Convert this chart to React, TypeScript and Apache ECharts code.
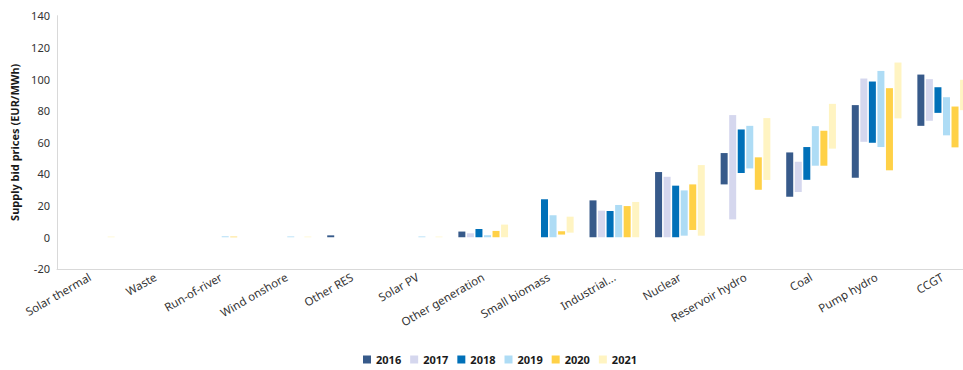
import React, { useEffect, useRef } from "react";
import * as echarts from "echarts";

const categories = [
  "Solar thermal",
  "Waste",
  "Run-of-river",
  "Wind onshore",
  "Other RES",
  "Solar PV",
  "Other generation",
  "Small biomass",
  "Industrial...",
  "Nuclear",
  "Reservoir hydro",
  "Coal",
  "Pump hydro",
  "CCGT",
];

const years = ["2016", "2017", "2018", "2019", "2020", "2021"];
const colors = ["#375A8A", "#D5D7EE", "#0070B8", "#AEDCF5", "#FFD147", "#FFF4C2"];

// low / high bid prices per category (EUR/MWh); null = no bar
const low2016 = [null, null, null, null, 0, null, 0, null, 0, 0, 33.4, 25.6, 37.6, 70.4];
const high2016 = [null, null, null, null, 1.2, null, 3.6, null, 23.3, 41.2, 53.2, 53.6, 83.5, 102.8];
const low2017 = [null, null, null, null, null, null, 0, null, 0, 0, 11.3, 28.6, 60.3, 73.6];
const high2017 = [null, null, null, null, null, null, 2.5, null, 16.8, 38.2, 77.2, 47.7, 100.3, 99.9];
const low2018 = [null, null, null, null, null, null, 0, 0, 0, 0, 40.6, 36.3, 59.7, 78.6];
const high2018 = [null, null, null, null, null, null, 5.2, 24, 16.6, 32.6, 68.1, 57, 98.4, 94.8];
const low2019 = [null, null, 0, 0, null, 0, 0, 0, 0, 1, 43.5, 45.2, 57, 64.4];
const high2019 = [null, null, 0.6, 0.5, null, 0.5, 1.3, 13.9, 20.4, 29.6, 70.4, 70.2, 105.1, 88.5];
const low2020 = [null, null, 0, null, null, null, 0, 1.7, 0, 4.6, 30, 45.2, 42.3, 56.8];
const high2020 = [null, null, 0.4, null, null, null, 4, 3.8, 19.7, 33.4, 50.5, 67.3, 94.2, 82.6];
const low2021 = [0, null, null, 0, null, 0, 0, 2.9, 0, 1, 36.2, 56, 75.1, 80.3];
const high2021 = [0.4, null, null, 0.4, null, 0.4, 8, 13, 22.3, 45.6, 75.3, 84.3, 110.4, 99.5];

const lows = [low2016, low2017, low2018, low2019, low2020, low2021];
const highs = [high2016, high2017, high2018, high2019, high2020, high2021];

const FONT = "'Noto Sans', sans-serif";

export default function App() {
  const ref = useRef<HTMLDivElement>(null);

  useEffect(() => {
    if (!ref.current) return;
    const chart = echarts.init(ref.current, undefined, { renderer: "svg" });

    const series: any[] = [];
    years.forEach((y, i) => {
      const lo = lows[i];
      const hi = highs[i];
      series.push({
        name: "base" + y,
        type: "bar",
        stack: "s" + y,
        barWidth: 7,
        barGap: "22%",
        itemStyle: { color: "transparent" },
        emphasis: { disabled: true },
        data: lo.map((v) => (v === null ? null : v)),
      });
      series.push({
        name: y,
        type: "bar",
        stack: "s" + y,
        barWidth: 7,
        barGap: "22%",
        itemStyle: { color: colors[i] },
        data: hi.map((v, k) => (v === null || lo[k] === null ? null : +(v - (lo[k] as number)).toFixed(2))),
      });
    });

    chart.setOption({
      animation: false,
      backgroundColor: "#ffffff",
      grid: {
        left: 57,
        width: 918,
        top: 15.7,
        height: 253.2,
        containLabel: false,
        outerBoundsMode: "none",
      },
      legend: {
        data: years,
        left: 358,
        top: 349,
        icon: "rect",
        itemWidth: 8,
        itemHeight: 8,
        itemGap: 9,
        textStyle: { fontFamily: FONT, fontSize: 11, fontWeight: "bold", color: "#1a1a1a" },
      },
      xAxis: {
        type: "category",
        data: categories,
        axisLine: { onZero: false, lineStyle: { color: "#D9D9D9", width: 1 } },
        axisTick: { show: false },
        axisLabel: {
          interval: 0,
          rotate: 30,
          margin: 7,
          fontFamily: FONT,
          fontSize: 11.5,
          color: "#333333",
        },
      },
      yAxis: {
        type: "value",
        min: -20,
        max: 140,
        interval: 20,
        name: "Supply bid prices (EUR/MWh)",
        nameLocation: "middle",
        nameGap: 32,
        nameTextStyle: { fontFamily: FONT, fontSize: 11, fontWeight: "bold", color: "#1a1a1a" },
        axisLine: { show: true, lineStyle: { color: "#D9D9D9", width: 1 } },
        axisTick: { show: false },
        splitLine: { show: false },
        axisLabel: { fontFamily: FONT, fontSize: 11, color: "#333333", margin: 7 },
      },
      series,
    });

    return () => chart.dispose();
  }, []);

  return (
    <div
      ref={ref}
      style={{ position: "fixed", left: 0, top: 0, width: 963, height: 370 }}
    />
  );
}
